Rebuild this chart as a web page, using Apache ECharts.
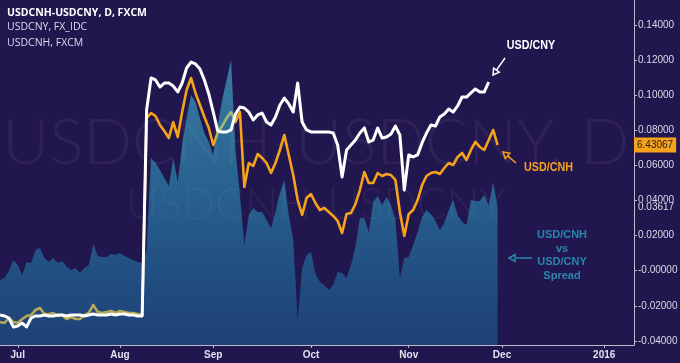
<!DOCTYPE html>
<html><head><meta charset="utf-8">
<script src="https://cdn.jsdelivr.net/npm/echarts@6/dist/echarts.min.js"></script>
<style>html,body{margin:0;padding:0;background:#22164f;}#c{width:680px;height:363px;}</style>
</head><body><div id="c"></div>
<script>
// x = trading-day index, 0 = 2015-06-25 (weekdays only)
const monthTickIndex = [4, 27, 48, 70, 92, 113, 136];
const monthTickLabels = ['Jul', 'Aug', 'Sep', 'Oct', 'Nov', 'Dec', '2016'];
const spreadTicks = [-0.04, -0.02, 0, 0.02, 0.04, 0.06, 0.08, 0.10, 0.12, 0.14];

// USDCNH - USDCNY spread (right axis)
const spread = [
 -0.0053,-0.0042,-0.0002,0.0061,0.0033,-0.0025,0.0050,0.0044,0.0118,0.0129,
 0.0072,0.0050,0.0072,0.0044,0.0055,0.0021,0.0004,0.0015,-0.0013,0.0015,
 0.0033,0.0152,0.0084,0.0078,0.0078,0.0095,0.0090,0.0101,0.0084,0.0072,
 0.0061,0.0050,0.0044,0.0118,0.0643,0.0614,0.0574,0.0529,0.0483,0.0643,
 0.0506,0.0717,0.0871,0.1002,0.0962,0.0871,0.0785,0.0734,0.0660,0.0831,
 0.0973,0.1087,0.1201,0.0688,0.0432,0.0147,0.0318,0.0358,0.0335,0.0335,
 0.0289,0.0243,0.0335,0.0443,0.0517,0.0318,0.0175,-0.0281,0.0015,0.0090,
 0.0107,-0.0019,-0.0064,-0.0082,-0.0110,-0.0082,-0.0007,-0.0013,-0.0042,0.0033,
 0.0135,0.0301,0.0301,0.0221,0.0392,0.0426,0.0375,0.0420,0.0375,0.0289,
 -0.0042,0.0072,0.0078,0.0147,0.0221,0.0306,0.0346,0.0323,0.0283,0.0232,
 0.0272,0.0346,0.0403,0.0318,0.0278,0.0261,0.0403,0.0397,0.0397,0.0432,
 0.0375,0.0506,0.03617];

// USD/CNH (FXCM)
const usdcnh = [
 6.2008,6.1995,6.2060,6.2008,6.1995,6.2047,6.2086,6.2099,6.2164,6.2190,
 6.2112,6.2112,6.2125,6.2086,6.2099,6.2047,6.2073,6.2047,6.2047,6.2099,
 6.2125,6.2229,6.2138,6.2125,6.2138,6.2151,6.2125,6.2151,6.2138,6.2125,
 6.2125,6.2112,6.2099,6.4657,6.4722,6.4683,6.4566,6.4489,6.4398,6.4605,
 6.4411,6.4735,6.5021,6.5177,6.4982,6.4826,6.4670,6.4527,6.4307,6.4463,
 6.4553,6.4657,6.4735,6.4605,6.4735,6.3761,6.4073,6.4034,6.4190,6.4138,
 6.4073,6.3943,6.4073,6.4242,6.4437,6.4177,6.3917,6.3592,6.3398,6.3618,
 6.3670,6.3553,6.3462,6.3488,6.3437,6.3385,6.3320,6.3164,6.3411,6.3424,
 6.3540,6.3722,6.3956,6.3813,6.3813,6.3943,6.3904,6.3930,6.3917,6.3852,
 6.3437,6.3125,6.3411,6.3462,6.3592,6.3787,6.3904,6.3943,6.3956,6.3930,
 6.4008,6.4073,6.4047,6.4151,6.4203,6.4112,6.4242,6.4346,6.4281,6.4242,
 6.4372,6.4502,6.43067];

// USD/CNY (FX_IDC)
const usdcny = [
 6.2114,6.2106,6.2090,6.2019,6.2027,6.2050,6.2019,6.2090,6.2106,6.2106,
 6.2114,6.2106,6.2106,6.2114,6.2114,6.2106,6.2114,6.2114,6.2114,6.2106,
 6.2114,6.2122,6.2114,6.2114,6.2114,6.2122,6.2114,6.2122,6.2122,6.2114,
 6.2114,6.2106,6.2106,6.3738,6.3992,6.3976,6.3920,6.3952,6.3952,6.3928,
 6.3881,6.3952,6.4071,6.4118,6.4103,6.4063,6.3976,6.3865,6.3722,6.3572,
 6.3564,6.3564,6.3580,6.3706,6.3762,6.3754,6.3722,6.3659,6.3699,6.3714,
 6.3643,6.3619,6.3683,6.3778,6.3833,6.3786,6.3722,6.3952,6.3643,6.3580,
 6.3564,6.3564,6.3564,6.3564,6.3564,6.3556,6.3461,6.3207,6.3421,6.3461,
 6.3500,6.3556,6.3596,6.3485,6.3500,6.3596,6.3516,6.3524,6.3548,6.3611,
 6.3540,6.3104,6.3382,6.3366,6.3382,6.3477,6.3556,6.3619,6.3611,6.3683,
 6.3706,6.3746,6.3722,6.3770,6.3841,6.3841,6.3873,6.3905,6.3881,6.3881,
 6.3960];

const lastSpread = 0.03617;
const lastCnh = 6.43067;

const BG = '#22164f';
const AXIS = '#bcbacb';
const TEAL = '#2a86ad';
const ORANGE = '#f7a21b';
const ARIAL = 'Arial, "Liberation Sans", sans-serif';
const SPREAD_MIN = -0.04236, SPREAD_MAX = 0.15433;
const CNH_MIN = 6.17093, CNH_MAX = 6.61898;
const CNY_MIN = 6.18760, CNY_MAX = 6.46098;

const chart = echarts.init(document.getElementById('c'), null, {renderer: 'canvas'});
const toXY = arr => arr.map((v, i) => [i, v]);

function arrowHead(tip, from, len, half) {
  const dx = tip[0] - from[0], dy = tip[1] - from[1];
  const L = Math.hypot(dx, dy), ux = dx / L, uy = dy / L;
  const bx = tip[0] - ux * len, by = tip[1] - uy * len;
  return [[tip[0], tip[1]], [bx - uy * half, by + ux * half], [bx + uy * half, by - ux * half]];
}
function arrow(from, tip, color) {
  const dx = tip[0] - from[0], dy = tip[1] - from[1];
  const L = Math.hypot(dx, dy);
  const base = [tip[0] - dx / L * 6, tip[1] - dy / L * 6];
  return [
    {type: 'polyline', z: 20, silent: true, shape: {points: [from, base]}, style: {stroke: color, lineWidth: 1.5}},
    {type: 'polygon', z: 20, silent: true, shape: {points: arrowHead(tip, from, 6, 3.5)}, style: {stroke: color, fill: BG, lineWidth: 1.5}}
  ];
}
function label(text, x, y, color, size, sx) {
  return {type: 'text', z: 20, silent: true, x: x, y: y, scaleX: sx || 1,
    style: {text: text, fill: color, font: 'bold ' + size + 'px ' + ARIAL, textAlign: 'center', textVerticalAlign: 'middle'}};
}

const option = {
  backgroundColor: BG,
  animation: false,
  grid: {left: 0, right: 46, top: 0, bottom: 18, containLabel: false, outerBoundsMode: 'none'},
  xAxis: {
    type: 'value', min: 0, max: 142.7,
    axisLine: {show: true, onZero: false, lineStyle: {color: AXIS, width: 1}},
    axisTick: {show: true, customValues: monthTickIndex, length: 3, lineStyle: {color: AXIS}},
    axisLabel: {
      customValues: monthTickIndex, margin: 5, color: '#e4e3ee', fontSize: 10, fontWeight: 'bold',
      fontFamily: ARIAL,
      formatter: v => monthTickLabels[monthTickIndex.indexOf(Math.round(v))] || ''
    },
    splitLine: {show: false}
  },
  yAxis: [
    {
      type: 'value', position: 'right', min: SPREAD_MIN, max: SPREAD_MAX,
      axisLine: {show: true, onZero: false, lineStyle: {color: AXIS, width: 1}},
      axisTick: {show: true, customValues: spreadTicks, length: 3, lineStyle: {color: AXIS}},
      axisLabel: {
        customValues: spreadTicks, margin: 4, color: '#dcdbe8', fontSize: 10, fontFamily: ARIAL,
        hideOverlap: false,
        formatter: v => (Math.abs(v) < 1e-9 ? '-0.00000' : v.toFixed(5))
      },
      splitLine: {show: false}
    },
    {type: 'value', show: false, min: CNH_MIN, max: CNH_MAX, splitLine: {show: false}},
    {type: 'value', show: false, min: CNY_MIN, max: CNY_MAX, splitLine: {show: false}}
  ],
  series: [
    {
      name: 'USDCNH, FXCM', type: 'line', yAxisIndex: 1, z: 3,
      data: toXY(usdcnh), showSymbol: false, symbol: 'none',
      lineStyle: {color: ORANGE, width: 2.6, join: 'round'}
    },
    {
      name: 'USDCNH-USDCNY, D, FXCM', type: 'line', yAxisIndex: 0, z: 4,
      data: toXY(spread), showSymbol: false, symbol: 'none',
      lineStyle: {width: 0},
      areaStyle: {
        origin: 'start',
        color: {type: 'linear', x: 0, y: 0, x2: 0, y2: 1, colorStops: [
          {offset: 0, color: 'rgba(80,212,232,0.76)'},
          {offset: 0.45, color: 'rgba(50,202,232,0.6)'},
          {offset: 1, color: 'rgba(20,182,226,0.38)'}
        ]}
      }
    },
    {
      name: 'USDCNY, FX_IDC', type: 'line', yAxisIndex: 2, z: 5,
      data: toXY(usdcny), showSymbol: false, symbol: 'none',
      lineStyle: {color: '#ffffff', width: 3, join: 'round'}
    }
  ],
  graphic: [
    // watermark
    {type: 'text', z: -1, silent: true, x: 316, y: 143, style: {text: 'USDCNH-USDCNY, D', fill: 'rgba(255,255,255,0.055)',
      font: '300 64px Lato, "Open Sans", sans-serif', textAlign: 'center', textVerticalAlign: 'middle'}},
    {type: 'text', z: -1, silent: true, x: 316, y: 205, style: {text: 'USDCNH-USDCNY', fill: 'rgba(255,255,255,0.05)',
      font: '300 44px Lato, "Open Sans", sans-serif', textAlign: 'center', textVerticalAlign: 'middle'}},
    // header
    {type: 'text', z: 20, silent: true, x: 7, y: 13, style: {text: 'USDCNH-USDCNY, D, FXCM', fill: '#ffffff',
      font: 'bold 10.5px "Open Sans", sans-serif', textVerticalAlign: 'middle'}},
    {type: 'text', z: 20, silent: true, x: 7, y: 27.5, style: {text: 'USDCNY, FX_IDC', fill: '#dcdbea',
      font: '10.5px "Open Sans", sans-serif', textVerticalAlign: 'middle'}},
    {type: 'text', z: 20, silent: true, x: 7, y: 43, style: {text: 'USDCNH, FXCM', fill: '#dcdbea',
      font: '10.5px "Open Sans", sans-serif', textVerticalAlign: 'middle'}},
    // annotations
    label('USD/CNY', 531, 46, '#ffffff', 12.5, 0.86),
    label('USD/CNH', 548.5, 168, ORANGE, 12.5, 0.86),
    label('USD/CNH', 562, 235, TEAL, 11),
    label('vs', 562, 249, TEAL, 11),
    label('USD/CNY', 562, 262, TEAL, 11),
    label('Spread', 562, 276, TEAL, 11),
    ...arrow([505, 58], [493, 75], '#ffffff'),
    ...arrow([516, 163], [503, 152], ORANGE),
    ...arrow([532, 258], [509, 258], TEAL)
  ]
};
chart.setOption(option);

// last-value tags on the price scale, positioned through the chart's own axes
const xEnd = chart.convertToPixel({xAxisIndex: 0}, 142.7);
const yCnh = chart.convertToPixel({yAxisIndex: 1}, lastCnh);
const ySpr = chart.convertToPixel({yAxisIndex: 0}, lastSpread);
chart.setOption({graphic: [
  {id: 'tagSpread', type: 'text', z: 30, silent: true, x: xEnd + 3, y: ySpr,
    style: {text: lastSpread.toFixed(5), fill: '#dcdbe8', font: '10px ' + ARIAL, textVerticalAlign: 'middle',
      backgroundColor: BG, padding: [1, 1, 0, 1]}},
  {id: 'tagCnh', type: 'text', z: 30, silent: true, x: xEnd, y: yCnh,
    style: {text: lastCnh.toFixed(5), fill: '#1c1c1c', font: '10px ' + ARIAL, textVerticalAlign: 'middle',
      backgroundColor: ORANGE, padding: [3, 3, 2, 3]}}
]});
</script></body></html>
